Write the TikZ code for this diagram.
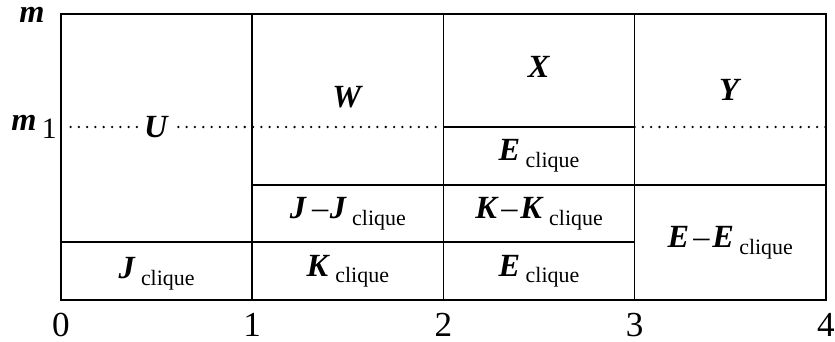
\documentclass[tikz,border=0pt]{standalone}
\usepackage{fontspec}
\setmainfont{Liberation Serif}
\usetikzlibrary{positioning}

\newcommand{\vlet}[1]{\textbf{\textit{#1}}}
\newcommand{\clq}{\,\raisebox{-0.45ex}{\fontsize{7.8}{9}\selectfont clique}}

\begin{document}
\begin{tikzpicture}[x=2.39cm, y=1cm, font=\fontsize{11.5}{13}\selectfont,
  line width=0.6pt,
  dots/.style={line width=0.9pt, dash pattern=on 0pt off 2.95pt, line cap=round},
  lab/.style={inner sep=1.5pt}]

\useasboundingbox (-0.319,-0.5125) rectangle (4.048,3.75);

%---------------------------------------
% Heights
%---------------------------------------
\def\hJ{0.725}    % top of the clique cells
\def\hK{1.4375}   % top of the J-J, K-K, E-E cells
\def\mone{2.1625} % m_1
\def\mtop{3.575}  % m

%---------------------------------------
% Cells
%---------------------------------------
\draw (0,0) rectangle (4,\mtop);
\foreach \i in {1,2,3}
  \draw (\i,0) -- (\i,\mtop);
\draw (0,\hJ) -- (3,\hJ);
\draw (1,\hK) -- (4,\hK);
\draw (2,\mone) -- (3,\mone);

% m_1 level
\draw[dots] (0.05,\mone) -- (2,\mone);
\draw[dots] (3,\mone) -- (4,\mone);

%---------------------------------------
% Labels
%---------------------------------------
\node[lab, fill=white] (U) at (0.5,\mone) {\vlet{U}};
\node[lab] (W) at (1.5,2.5375) {\vlet{W}};
\node[lab] (X) at (2.5,2.9125) {\vlet{X}};
\node[lab] (Y) at (3.5,2.625) {\vlet{Y}};

\node[lab] (Eup) at (2.5,1.8) {\vlet{E}\clq};
\node[lab] (JJ) at (1.5,1.08) {\vlet{J}\,--\kern0.5pt\vlet{J}\clq};
\node[lab] (KK) at (2.5,1.08) {\vlet{K}\kern1pt--\kern1pt\vlet{K}\clq};
\node[lab] (EE) at (3.5,0.72) {\vlet{E}\kern1.5pt--\kern1pt\vlet{E}\clq};
\node[lab] (Jcl) at (0.5,0.33) {\vlet{J}\clq};
\node[lab] (Kcl) at (1.5,0.36) {\vlet{K}\clq};
\node[lab] (Ecl) at (2.5,0.36) {\vlet{E}\clq};

%---------------------------------------
% Axes
%---------------------------------------
\foreach \i in {0,...,4}
  \node[font=\fontsize{12.5}{14}\selectfont] (t\i) at (\i,-0.3125) {\i};
\node[inner sep=0pt] (m) at (-0.152,3.56) {\vlet{m}};
\node[inner sep=0pt] (mone) at (-0.141,\mone)
  {\vlet{m}\,\raisebox{-0.5ex}{\fontsize{10.5}{12}\selectfont 1}};

\end{tikzpicture}
\end{document}
